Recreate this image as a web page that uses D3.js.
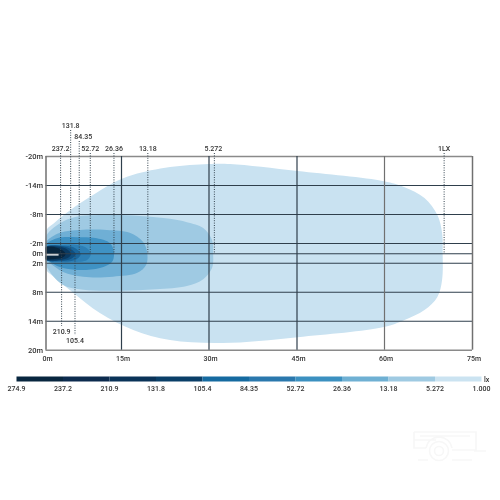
<!DOCTYPE html>
<html><head><meta charset="utf-8">
<script src="https://cdn.jsdelivr.net/npm/d3@7/dist/d3.min.js"></script>
<style>html,body{margin:0;background:#fff}svg{display:block;filter:blur(.35px)}text{font-family:"Roboto",sans-serif;font-weight:500;fill:#333}</style>
</head><body><svg id="c" width="500" height="500"></svg>
<script>
const xTicks=[0,15,30,45,60,75];
const yTicks=[-20,-14,-8,-2,0,2,8,14,20];
const legendLabels=["274.9","237.2","210.9","131.8","105.4","84.35","52.72","26.36","13.18","5.272","1.000"];
const legendColors=["#08263f","#0c2b4e","#0a3358","#0a3f68","#156aa0","#2a78ad","#3b90c0","#6fb0d3","#9fcae2","#cbe3f1"];
const c1=[[0,-4.3],[1.9,-6.3],[4.9,-8.8],[8.8,-11.5],[13.4,-14.4],[17.1,-16.1],[23.4,-17.7],[30,-18.35],[33.7,-18.35],[45.2,-16.9],[60,-14.8],[63.4,-13.6],[66.9,-11.3],[69.1,-7.8],[69.9,-4.1],[70,0],[69.9,5.6],[69.1,9.1],[66.9,11.8],[63.4,13.9],[60,15.3],[45.2,17.4],[32.4,18.6],[23.4,18],[17.1,15.9],[10.8,12.4],[5.5,8.2],[1.9,5.1],[0,3.2]];
const c5=[[0,-3.2],[2.9,-6.1],[5.9,-7.4],[12.2,-7.8],[18.3,-7.6],[23.4,-7],[26.3,-6.3],[29.1,-5.1],[30.6,-2.6],[30.8,0],[30.6,3.1],[29.1,5.4],[26.3,6.8],[21,7.5],[14.8,7.8],[7.5,7.6],[3.5,6.6],[.9,3.9],[0,2]];
const c13=[[0,-2],[2.9,-4.1],[6.9,-4.7],[12.2,-4.7],[16.5,-4.1],[18.8,-2.2],[19.5,0],[19.3,2.5],[17.8,4.1],[13.4,4.9],[7.5,4.9],[3.5,3.9],[.9,2.1],[0,1.5]];
const c26=[[0,-1.6],[2.3,-3],[6.3,-3.2],[10.2,-3],[12.8,-2],[13.6,-.25],[13.2,1.85],[10.8,3.1],[6.3,3.5],[2.9,2.9],[.5,1.4],[0,.5]];
const c52=[[0,-1],[2.9,-1.6],[6.3,-1.6],[8.25,-1],[9,.15],[8.25,1.4],[5.5,1.85],[2.9,1.85],[.5,1]];
const c84=[[0,-1.2],[3.9,-1.45],[5.9,-1],[7,.15],[6.1,1.3],[3.3,1.75],[0,1.3]];
const c105=[[0,-1.2],[3.3,-1.35],[5,-.85],[6,.15],[5.1,1.15],[2.9,1.6],[0,1.3]];
const c131=[[0,-1.15],[3,-1.2],[4.4,-.7],[5.1,.15],[4.4,1],[2.7,1.4],[0,1.25]];
const c210=[[0,-1.05],[2.4,-1.05],[3.5,-.5],[4,.15],[3.4,.9],[1.8,1.2],[0,1.15]];
const contours=[c1,c5,c13,c26,c52,c84,c105,c131,c210];
const contourColors=["#c9e2f1","#9fcae3","#6fafd5","#3f92c4","#2d7fb5","#1a669c","#0f4f80","#0a3a62","#08263f"];
const topLeaders=[["237.2",3],["131.8",5],["84.35",6.7],["52.72",8.9],["26.36",13.6],["13.18",19.6],["5.272",31],["1LX",70.25]];
const topLevels=[0,1,2,0,0,0,0,0];
const bottomLeaders=[["210.9",3.2],["105.4",5.86]];
const bottomLevels=[0,1];

const svg=d3.select("#c");
const x=d3.scaleLinear().domain(xTicks).range([45.5,121,208.5,296.5,384,472]);
const y=d3.scaleLinear().domain(yTicks).range([156,185,214,243,253.3,262.7,291.7,320.7,349.7]);
const L=45.5,R=472,T=156,B=349.7;

svg.append("defs").append("clipPath").attr("id","pl").append("rect").attr("x",L).attr("y",T).attr("width",R-L).attr("height",B-T);
const line=d3.line().x(d=>x(d[0])).y(d=>y(d[1])).curve(d3.curveCatmullRomClosed.alpha(.5));
svg.append("g").attr("clip-path","url(#pl)").selectAll("path").data(contours).join("path")
  .attr("d",line).attr("fill",(d,i)=>contourColors[i]);
svg.append("rect").attr("x",x(0)).attr("width",x(2.6)-x(0)).attr("y",y(.05)).attr("height",2).attr("fill","#fff");

const yAxis=d3.axisLeft(y).tickValues(yTicks).tickFormat(d=>d+"m").tickSize(0);
const gy=svg.append("g").attr("transform",`translate(${L},0)`).call(yAxis);
gy.select(".domain").remove();
gy.selectAll(".tick text").attr("x",-2.5).attr("dy","0.34em").style("font-size","7.5px").attr("font-size",null);
gy.selectAll(".tick line").attr("x2",R-L).attr("stroke","#2f3f4c").attr("stroke-width",1.1);
gy.selectAll(".tick").filter(d=>d===-20||d===20).select("line").attr("stroke","#8a8a8a").attr("stroke-width",1.5);
const xAxis=d3.axisBottom(x).tickValues(xTicks).tickFormat(d=>d+"m").tickSize(0);
const gx=svg.append("g").attr("transform",`translate(0,${B})`).call(xAxis);
gx.select(".domain").remove();
gx.selectAll(".tick text").attr("y",6.5).attr("dx",1.5).attr("dy","0.71em").style("font-size","7px");
gx.selectAll(".tick line").attr("y2",T-B).attr("stroke",d=>(d===0||d===75||d===60)?"#707070":"#2f3f4c").attr("stroke-width",d=>(d===0||d===75)?1.5:1.2);

const labelY=[149,126,137];
const lt=svg.append("g").selectAll("g").data(topLeaders).join("g");
lt.append("line").attr("x1",d=>x(d[1])).attr("x2",d=>x(d[1])).attr("y1",(d,i)=>labelY[topLevels[i]]+4).attr("y2",y(0))
  .attr("stroke","#34444f").attr("stroke-width",1).attr("stroke-dasharray","1 1.4");
lt.append("text").attr("x",d=>x(d[1])).attr("y",(d,i)=>labelY[topLevels[i]]+2).attr("text-anchor","middle").style("font-size","7px").attr("dx",(d,i)=>i==2?4:(i==6?-1:0)).text(d=>d[0]);
const botY=[332,341];
const lb=svg.append("g").selectAll("g").data(bottomLeaders).join("g");
lb.append("line").attr("x1",d=>x(d[1])).attr("x2",d=>x(d[1])).attr("y1",y(0)).attr("y2",(d,i)=>botY[bottomLevels[i]]-6)
  .attr("stroke","#34444f").attr("stroke-width",1).attr("stroke-dasharray","1 1.4");
lb.append("text").attr("x",d=>x(d[1])).attr("y",(d,i)=>botY[bottomLevels[i]]+2).attr("text-anchor","middle").style("font-size","7px").text(d=>d[0]);

const lx=d3.scalePoint().domain(legendLabels).range([16.5,481.5]);
svg.append("g").selectAll("rect").data(legendColors).join("rect")
  .attr("x",(d,i)=>lx(legendLabels[i])).attr("width",(d,i)=>lx(legendLabels[i+1])-lx(legendLabels[i])).attr("y",376.5).attr("height",5).attr("fill",d=>d);
svg.append("g").selectAll("text").data(legendLabels).join("text").attr("x",d=>lx(d)).attr("y",391).attr("text-anchor","middle").style("font-size","7px").text(d=>d);
svg.append("text").attr("x",484).attr("y",381.5).style("font-size","7px").text("lx");

const w=svg.append("g").attr("fill","none").attr("stroke","#f7f7f7").attr("stroke-width",1.6);
w.append("circle").attr("cx",439).attr("cy",451).attr("r",9.5);
w.append("circle").attr("cx",439).attr("cy",451).attr("r",4.5);
w.append("path").attr("d","M414 432H476V450H452M414 432V448H426M414 440H436M420 436H470M474 451H486M426 448Q428 438 439 437Q450 438 452 448M418 460H428M452 460H472");
</script></body></html>
